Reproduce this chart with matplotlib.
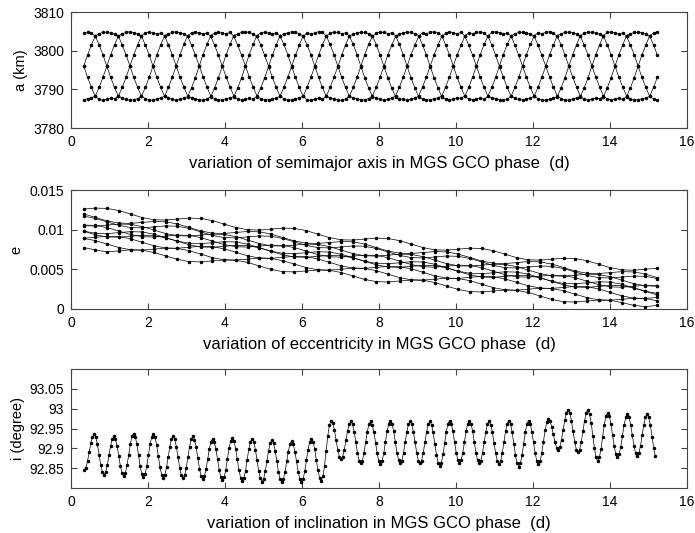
import numpy as np
import matplotlib
matplotlib.use('Agg')
from matplotlib import pyplot as plt

plt.rcParams['font.family'] = ['Liberation Sans', 'DejaVu Sans']

# ---- semimajor axis: four aliased strands, 0.1 km above 3780 km, every 0.1 d from 0.33 d
a_t0, a_dt = 0.33, 0.1
a_strand1 = [160,189,215,238,244,247,248,245,243,238,215,189,160,131,105,82,76,73,72,75,78,82,105,131,
             160,189,216,239,246,249,246,243,246,237,214,188,160,132,106,83,74,72,74,77,76,81,104,130,
             159,188,215,238,243,246,249,247,244,238,215,190,161,131,105,82,78,75,73,72,75,82,105,131,
             160,190,216,237,245,248,247,244,246,239,216,189,160,130,104,81,75,72,73,76,78,83,106,132,
             161,189,214,238,246,244,247,249,245,237,215,188,159,131,105,82,77,74,72,74,77,82,105,131,
             160,189,215,239,244,247,248,246,243,238,214,189,160,132,106,83,74,73,75,77,74,81,104,130,
             160,189,215,238,245,248]
a_strand2 = [246,248,245,238,215,189,160,131,105,82,77,74,72,73,76,82,105,131,160,189,215,238,244,247,
             249,246,244,237,214,189,161,132,106,83,75,72,73,76,78,81,104,130,160,190,216,239,246,248,
             245,243,246,238,216,190,160,131,105,82,73,72,75,77,74,82,105,131,159,188,215,238,243,246,
             248,247,244,239,215,188,159,130,104,81,76,74,72,74,77,83,106,132,160,189,214,237,245,249,
             246,244,247,238,214,189,160,131,105,82,78,75,73,72,75,82,105,131,161,190,216,238,246,244,
             247,249,245,237,215,189,160,132,106,83,74,72,74,77,76,81,104,130,160,189,215,239,244,247,
             248,246,243,238,215,189]
a_strand3 = [160,131,105,82,74,72,74,77,76,82,105,131,160,189,215,238,246,248,245,243,246,238,215,189,
             161,132,106,83,78,75,73,72,75,81,104,130,160,190,216,239,244,247,249,247,244,237,214,188,
             160,131,105,82,75,72,73,76,78,82,105,131,159,188,215,238,245,248,247,244,246,238,216,190,
             159,130,104,81,77,74,72,74,77,83,106,132,160,189,214,237,246,244,247,249,245,239,215,189,
             160,131,105,82,74,73,75,77,74,82,105,131,161,190,216,238,244,247,248,246,243,238,214,188,
             160,132,106,83,76,73,72,75,78,81,104,130,160,189,215,239,247,249,245,243,246,237,215,189,
             160,131,105,82,75,72]
a_strand4 = [73,76,78,82,105,131,160,189,215,238,244,247,249,246,243,238,215,189,160,131,105,82,77,74,
             72,74,77,81,104,130,160,190,216,239,246,248,245,244,247,237,214,188,161,132,106,83,75,72,
             73,75,77,82,105,131,159,188,215,238,245,243,246,249,247,238,216,190,160,131,105,82,78,75,
             72,73,76,83,106,132,160,189,214,237,243,246,248,247,244,239,215,189,159,130,104,81,74,72,
             74,77,78,82,105,131,161,190,216,238,247,249,246,244,245,238,214,188,160,131,105,82,76,73,
             72,74,77,81,104,130,160,189,215,239,245,247,248,245,243,237,215,189,160,132,106,83,75,72,
             73,76,77,82,105,131]

# ---- eccentricity: ten strands, in 1e-5, every 0.304 d from 0.33 d
e_t0, e_dt = 0.33, 0.304
e_strand1 = [1260,1272,1268,1241,1197,1153,1125,1121,1134,1146,1142,1114,1070,1027,999,995,1007,1019,1016,988,
             944,900,872,869,881,893,889,861,818,774,746,742,754,767,763,735,691,647,620,616,
             628,640,636,609,565,521,493,489,502,514]
e_strand2 = [1198,1154,1110,1083,1079,1091,1103,1099,1072,1028,984,956,952,965,977,973,945,901,858,830,
             826,838,850,847,819,775,731,703,700,712,724,720,692,649,605,577,573,585,598,594,
             566,522,478,451,447,459,471,467,440,396]
e_strand3 = [1050,1046,1058,1071,1067,1039,995,951,924,920,932,944,940,913,869,825,797,793,806,818,
             814,786,742,699,671,667,679,691,688,660,616,572,544,541,553,565,561,533,490,446,
             418,414,426,439,435,407,363,319,292,288]
e_strand4 = [1058,1054,1026,983,939,911,907,919,932,928,900,856,812,785,781,793,805,801,774,730,
             686,658,654,667,679,675,647,603,560,532,528,540,552,549,521,477,433,405,402,414,
             426,422,394,351,307,279,275,287,300,296]
e_strand5 = [980,936,908,905,917,929,925,897,854,810,782,778,790,803,799,771,727,683,656,652,
             664,676,672,645,601,557,529,525,538,550,546,518,474,431,403,399,411,423,420,392,
             348,304,276,273,285,297,293,265,222,178]
e_strand6 = [892,904,916,913,885,841,797,769,766,778,790,786,758,715,671,643,639,651,664,660,
             632,588,544,517,513,525,537,533,506,462,418,390,386,399,411,407,379,335,292,264,
             260,272,284,281,253,209,165,137,134,146]
e_strand7 = [890,862,818,775,747,743,755,767,764,736,692,648,620,617,629,641,637,609,566,522,
             494,490,502,515,511,483,439,395,368,364,376,388,384,357,313,269,241,237,250,262,
             258,230,186,143,115,111,123,135,132,104]
e_strand8 = [775,745,720,733,745,741,713,669,626,598,594,606,618,615,587,543,499,471,468,480,
             492,488,460,417,373,345,341,353,366,362,334,290,246,219,215,227,239,235,208,164,
             120,92,88,101,113,109,81,45,30,45]
e_strand9 = [1170,1142,1098,1055,1027,1023,1035,1047,1044,1016,972,928,900,897,909,921,917,889,846,802,
             774,770,782,795,791,763,719,675,648,644,656,668,664,637,593,549,521,517,530,542,
             538,510,466,423,395,391,403,415,412,384]
e_strand10 = [982,954,950,963,975,971,943,899,856,828,824,836,848,845,817,773,729,701,698,710,
              722,718,690,647,603,575,571,583,596,592,564,520,476,449,445,457,469,465,438,394,
              350,322,318,331,343,339,311,267,224,196]

# ---- inclination: 0.001 deg above 92.8 deg, 12 samples per cycle
i_t0, i_dt = 0.3435, 0.04275
incl_mdeg = [45,51,68,90,113,129,135,128,110,84,59,40,
             33,40,57,82,106,123,130,123,105,80,55,37,
             30,37,57,83,110,130,137,129,110,82,55,36,
             28,36,55,82,110,129,137,129,109,81,54,34,
             26,33,52,78,104,123,130,123,104,77,51,32,
             25,32,51,77,104,123,130,122,103,76,49,30,
             22,29,47,73,98,117,124,117,98,72,46,27,
             20,27,46,73,100,119,126,118,99,72,45,26,
             18,25,44,71,98,117,124,116,97,70,43,24,
             16,23,42,68,94,113,120,113,94,68,41,22,
             15,22,41,67,92,111,118,111,92,67,41,22,
             15,23,42,70,97,116,124,117,98,71,45,25,
             18,29,56,94,132,159,170,163,146,121,97,79,
             72,79,96,120,144,161,168,161,142,115,89,69,
             62,69,89,115,142,161,168,160,141,114,87,68,
             60,68,88,115,143,162,170,162,143,116,89,70,
             62,69,89,115,142,161,168,161,142,115,89,69,
             62,69,89,115,142,161,168,160,140,112,84,64,
             56,64,85,113,142,162,170,162,143,116,89,70,
             62,70,89,116,143,162,170,162,143,116,89,70,
             62,69,89,115,142,161,168,160,141,114,87,68,
             60,68,88,115,143,162,170,162,141,112,83,62,
             54,62,83,112,141,162,170,162,142,115,87,68,
             60,68,88,117,145,166,174,169,155,135,116,102,
             97,104,122,147,172,190,197,190,170,143,117,97,
             90,97,116,143,170,189,196,187,164,132,100,77,
             68,77,99,129,160,181,190,182,162,133,105,85,
             77,85,104,132,159,178,186,179,160,133,107,87,
             80,87,107,133,160,179,186,178,158,129,101,80]

xlabels = ['variation of semimajor axis in MGS GCO phase  (d)',
           'variation of eccentricity in MGS GCO phase  (d)',
           'variation of inclination in MGS GCO phase  (d)']
ylabels = ['a (km)', 'e', 'i (degree)']
ylabel_x = [-0.0698, -0.0779, -0.0747]


def style(ax, xlabel, ylabel, lx):
    ax.set_xlim(0, 16)
    ax.set_xticks(range(0, 17, 2))
    ax.tick_params(direction='in', length=4, width=0.8, top=True, right=True,
                   labelsize=10, colors='#444444', labelcolor='black', pad=5)
    for sp in ax.spines.values():
        sp.set_color('#444444')
        sp.set_linewidth(0.8)
    ax.set_xlabel(xlabel, fontsize=12, labelpad=5)
    ax.set_ylabel(ylabel, fontsize=10.5)
    ax.yaxis.set_label_coords(lx, 0.5)


fig = plt.figure(figsize=(6.95, 5.33), dpi=100)
W, H = 695.0, 533.0
ax1 = fig.add_axes([71/W, 1-128/H, 616/W, 116/H])
ax2 = fig.add_axes([71/W, 1-309/H, 616/W, 119/H])
ax3 = fig.add_axes([71/W, 1-488/H, 616/W, 119/H])

kw = dict(color='black', lw=0.5, marker='.', ms=3.0)

for s in [a_strand1, a_strand2, a_strand3, a_strand4]:
    t = a_t0 + a_dt*np.arange(len(s))
    ax1.plot(t, 3780 + np.array(s)/10.0, **kw)
ax1.set_ylim(3780, 3810)
ax1.set_yticks([3780, 3790, 3800, 3810])
style(ax1, xlabels[0], ylabels[0], ylabel_x[0])

for s in [e_strand1, e_strand2, e_strand3, e_strand4, e_strand5,
          e_strand6, e_strand7, e_strand8, e_strand9, e_strand10]:
    t = e_t0 + e_dt*np.arange(len(s))
    ax2.plot(t, np.array(s)*1e-5, **kw)
ax2.set_ylim(0, 0.015)
ax2.set_yticks([0, 0.005, 0.01, 0.015])
ax2.set_yticklabels(['0', '0.005', '0.01', '0.015'])
style(ax2, xlabels[1], ylabels[1], ylabel_x[1])

t = i_t0 + i_dt*np.arange(len(incl_mdeg))
ax3.plot(t, 92.8 + np.array(incl_mdeg)/1000.0, **kw)
ax3.set_ylim(92.8, 93.1)
ax3.set_yticks([92.85, 92.9, 92.95, 93.0, 93.05])
ax3.set_yticklabels(['92.85', '92.9', '92.95', '93', '93.05'])
style(ax3, xlabels[2], ylabels[2], ylabel_x[2])

fig.savefig('out.png', dpi=100)
